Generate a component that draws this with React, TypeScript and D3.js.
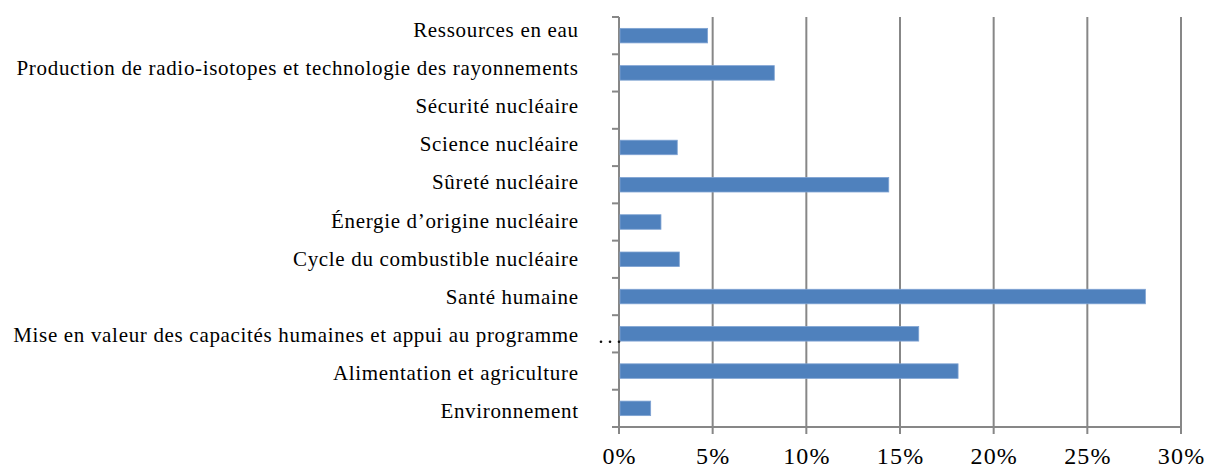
import React from "react";
import * as d3 from "d3";

// categories, top to bottom as in the chart
const categories = [
  "Ressources en eau",
  "Production de radio-isotopes et technologie des rayonnements",
  "Sécurité nucléaire",
  "Science nucléaire",
  "Sûreté nucléaire",
  "Énergie d’origine nucléaire",
  "Cycle du combustible nucléaire",
  "Santé humaine",
  "Mise en valeur des capacités humaines et appui au programme",
  "Alimentation et agriculture",
  "Environnement",
];

// share of each category, in percent
const shares = [4.73, 8.29, 0, 3.11, 14.4, 2.24, 3.22, 28.1, 16.0, 18.1, 1.69];

const tickValues = [0, 5, 10, 15, 20, 25, 30];

// size of the picture
const width = 1207;
const height = 468;

const margin = { top: 17, right: 26, bottom: 41, left: 619 };

const axisColor = "#878787";
const barColor = "#4F81BD";
const font = "Liberation Serif";

export default function App() {
  const x = d3.scaleLinear().domain([0, 30]).range([margin.left, width - margin.right]);

  const y = d3
    .scaleBand<string>()
    .domain(categories)
    .range([margin.top, height - margin.bottom])
    .paddingInner(0.61)
    .paddingOuter(0.305);

  // label baselines drift slightly from the bands in the source
  const labelY = d3.scalePoint<string>().domain(categories).range([36.7, 418.3]);

  const step = y.step();
  const bottom = height - margin.bottom;
  const bandEdges = d3.range(categories.length + 1).map((i) => margin.top + i * step);

  const marked = categories[8];
  const markY = (y(marked) ?? 0) + y.bandwidth() / 2 + 8;

  return (
    <svg
      width={width}
      height={height}
      style={{ position: "absolute", left: 0, top: 0, background: "#fff" }}
    >
      {/* vertical grid lines with their ticks below the axis */}
      {tickValues.map((t) => (
        <line
          key={"g" + t}
          x1={x(t)}
          x2={x(t)}
          y1={margin.top}
          y2={bottom + 7}
          stroke={axisColor}
          strokeWidth={2}
        />
      ))}

      {/* bottom axis */}
      <line x1={x(0)} x2={x(30)} y1={bottom} y2={bottom} stroke={axisColor} strokeWidth={2} />

      {/* category ticks */}
      {bandEdges.map((e, i) => (
        <line key={"t" + i} x1={x(0) - 7} x2={x(0)} y1={e} y2={e} stroke={axisColor} strokeWidth={2} />
      ))}

      {/* bars */}
      {categories.map((c, i) =>
        shares[i] > 0 ? (
          <rect
            key={c}
            x={x(0) + 1}
            y={y(c)}
            width={x(shares[i]) - x(0) - 1}
            height={y.bandwidth()}
            fill={barColor}
            stroke="#7FA3D3"
            strokeWidth={0.8}
          />
        ) : null
      )}

      {/* small dotted mark in front of one label */}
      {[-18, -9, 0].map((dx) => (
        <circle key={"d" + dx} cx={x(0) + dx} cy={markY} r={1.3} fill="#111" />
      ))}

      {/* category labels (a little letter spacing: the source text runs wide) */}
      {categories.map((c) => (
        <text
          key={"l" + c}
          x={578.7}
          y={labelY(c)}
          textAnchor="end"
          fill="#000"
          style={{ fontFamily: font, fontSize: 21, letterSpacing: 0.68 }}
        >
          {c}
        </text>
      ))}

      {/* tick labels */}
      {tickValues.map((t) => (
        <text
          key={"x" + t}
          x={x(t) + 0.6}
          y={464}
          textAnchor="middle"
          fill="#000"
          style={{ fontFamily: font, fontSize: 24, letterSpacing: 1.2 }}
        >
          {t}%
        </text>
      ))}
    </svg>
  );
}
